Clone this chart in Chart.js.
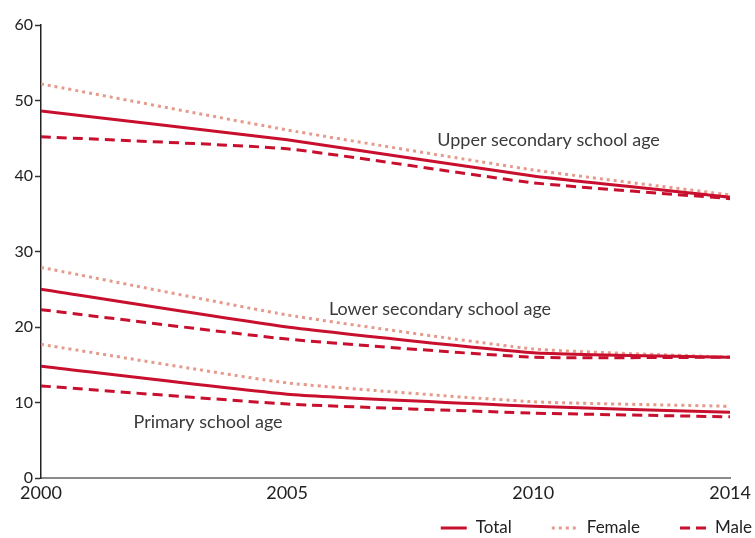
<!DOCTYPE html>
<html>
<head>
<meta charset="utf-8">
<script src="https://cdn.jsdelivr.net/npm/chart.js@4.4.1/dist/chart.umd.min.js"></script>
<style>
  html, body { margin: 0; padding: 0; background: #fff; }
  #wrap { width: 755px; height: 538px; }
</style>
</head>
<body>
<div id="wrap"><canvas id="chart"></canvas></div>
<script>
// data
const years = [2000, 2005, 2010, 2014];
const xTicks = [2000, 2005, 2010, 2014];
const yTicks = [0, 10, 20, 30, 40, 50, 60];

const upperTotal  = [48.6, 44.8, 40.0, 37.2];
const upperFemale = [52.2, 46.1, 40.8, 37.5];
const upperMale   = [45.2, 43.6, 39.1, 37.0];

const lowerTotal  = [25.0, 20.0, 16.6, 16.0];
const lowerFemale = [27.9, 21.6, 17.1, 16.0];
const lowerMale   = [22.3, 18.4, 16.0, 16.0];

const primTotal   = [14.8, 11.1, 9.5, 8.7];
const primFemale  = [17.7, 12.6, 10.1, 9.5];
const primMale    = [12.2, 9.8, 8.6, 8.1];

const groupLabels = ['Upper secondary school age', 'Lower secondary school age', 'Primary school age'];
const groupLabelX = [2008.05, 2005.85, 2001.88];
const groupLabelY = [44.8, 22.4, 7.4];

const legendLabels = ['Total', 'Female', 'Male'];

const RED = '#c8102e';
const PINK = '#e59a8c';
const FONT = 'Lato, "Open Sans", sans-serif';

const styles = {
  Total:  { color: RED,  dash: [] },
  Female: { color: PINK, dash: [3, 4] },
  Male:   { color: RED,  dash: [10, 6] }
};

function series(label, vals, kind) {
  const st = styles[kind];
  return {
    label: label,
    data: years.map((y, i) => ({ x: y, y: vals[i] })),
    borderColor: st.color,
    backgroundColor: st.color,
    borderDash: st.dash,
    borderWidth: 3,
    pointRadius: 0,
    tension: 0.15,
    fill: false
  };
}

const datasets = [
  series('Total', upperTotal, 'Total'),
  series('Female', upperFemale, 'Female'),
  series('Male', upperMale, 'Male'),
  series('Lower Total', lowerTotal, 'Total'),
  series('Lower Female', lowerFemale, 'Female'),
  series('Lower Male', lowerMale, 'Male'),
  series('Primary Total', primTotal, 'Total'),
  series('Primary Female', primFemale, 'Female'),
  series('Primary Male', primMale, 'Male')
];

const groupText = {
  id: 'groupText',
  afterDatasetsDraw(chart) {
    const { ctx, scales: { x, y } } = chart;
    ctx.save();
    ctx.font = '18px ' + FONT;
    ctx.fillStyle = '#3a3a3a';
    ctx.textAlign = 'left';
    ctx.textBaseline = 'middle';
    groupLabels.forEach((t, i) => {
      ctx.fillText(t, x.getPixelForValue(groupLabelX[i]), y.getPixelForValue(groupLabelY[i]));
    });
    ctx.restore();
  }
};

// legend drawn by hand so the dashes show, right aligned at the bottom
const lineLegend = {
  id: 'lineLegend',
  afterDraw(chart) {
    const ctx = chart.ctx;
    const yMid = chart.height - 10;
    const lineLen = 26, gapText = 9, gapItem = 40;
    ctx.save();
    ctx.font = '17px ' + FONT;
    ctx.textBaseline = 'middle';
    ctx.textAlign = 'left';
    let right = chart.width - 3;
    for (let i = legendLabels.length - 1; i >= 0; i--) {
      const name = legendLabels[i];
      const st = styles[name];
      const tw = ctx.measureText(name).width;
      const tx = right - tw;
      const lx = tx - gapText - lineLen;
      ctx.fillStyle = '#222';
      ctx.fillText(name, tx, yMid);
      ctx.beginPath();
      ctx.strokeStyle = st.color;
      ctx.lineWidth = 3;
      ctx.setLineDash(st.dash);
      ctx.moveTo(lx, yMid);
      ctx.lineTo(lx + lineLen, yMid);
      ctx.stroke();
      right = lx - gapItem;
    }
    ctx.restore();
  }
};

new Chart(document.getElementById('chart').getContext('2d'), {
  type: 'line',
  data: { datasets: datasets },
  plugins: [groupText, lineLegend],
  options: {
    responsive: true,
    maintainAspectRatio: false,
    animation: false,
    layout: { padding: { top: 25, right: 22, left: 0, bottom: 0 } },
    plugins: {
      tooltip: { enabled: false },
      legend: { display: false }
    },
    scales: {
      x: {
        type: 'linear',
        min: 2000,
        max: 2014,
        afterBuildTicks: (s) => { s.ticks = xTicks.map(v => ({ value: v })); },
        afterFit: (s) => { s.height = 60; },
        grid: { display: false, drawTicks: false },
        border: { color: '#8a8a8a', width: 2 },
        ticks: {
          padding: 4,
          color: '#222',
          maxRotation: 0,
          font: { family: FONT, size: 18 },
          callback: (v) => String(v)
        }
      },
      y: {
        min: 0,
        max: 60,
        afterBuildTicks: (s) => { s.ticks = yTicks.map(v => ({ value: v })); },
        afterFit: (s) => { s.width = 41; },
        grid: { display: true, drawOnChartArea: false, drawTicks: true, tickLength: 6, color: '#333', tickWidth: 1.5 },
        border: { color: '#222', width: 1.5 },
        ticks: {
          padding: 2,
          color: '#222',
          font: { family: FONT, size: 16 }
        }
      }
    }
  }
});
</script>
</body>
</html>
